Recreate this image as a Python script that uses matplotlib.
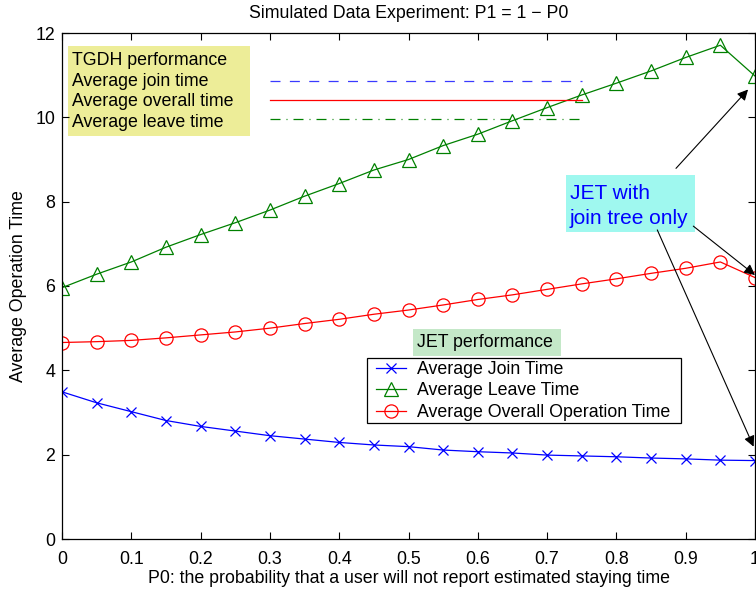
import matplotlib
matplotlib.use("Agg")
import matplotlib.pyplot as plt
from matplotlib.patches import Rectangle

plt.rcParams['font.family'] = ['Liberation Sans', 'DejaVu Sans']

# data
p0 = [0.0, 0.05, 0.1, 0.15, 0.2, 0.25, 0.3, 0.35, 0.4, 0.45, 0.5,
      0.55, 0.6, 0.65, 0.7, 0.75, 0.8, 0.85, 0.9, 0.95, 1.0]
join_time = [3.49, 3.23, 3.02, 2.81, 2.67, 2.56, 2.45, 2.37, 2.29, 2.23, 2.19,
             2.11, 2.07, 2.04, 1.99, 1.97, 1.95, 1.92, 1.90, 1.87, 1.86]
leave_time = [5.96, 6.28, 6.57, 6.92, 7.22, 7.50, 7.80, 8.13, 8.43, 8.75, 9.00,
              9.33, 9.60, 9.92, 10.23, 10.53, 10.81, 11.10, 11.42, 11.71, 10.98]
overall_time = [4.66, 4.68, 4.71, 4.77, 4.84, 4.91, 5.00, 5.11, 5.21, 5.33, 5.43,
                5.55, 5.68, 5.79, 5.92, 6.05, 6.17, 6.30, 6.42, 6.57, 6.20]

# TGDH reference levels (drawn as short horizontal key lines)
tgdh_x = [0.3, 0.75]
tgdh_join = 10.86
tgdh_overall = 10.41
tgdh_leave = 9.96

xticks = [0, 0.1, 0.2, 0.3, 0.4, 0.5, 0.6, 0.7, 0.8, 0.9, 1]
xtick_labels = ['0', '0.1', '0.2', '0.3', '0.4', '0.5', '0.6', '0.7', '0.8', '0.9', '1']
yticks = [0, 2, 4, 6, 8, 10, 12]

fs = 12.8

fig = plt.figure(figsize=(7.56, 5.92), dpi=100)
ax = fig.add_axes([62 / 756, 1 - 539 / 592, 693 / 756, 506 / 592])

l1, = ax.plot(p0, join_time, color='#0000ff', lw=0.9, marker='x', ms=7,
              mew=0.9, label='Average Join Time')
l2, = ax.plot(p0, leave_time, color='#008000', lw=0.9, marker='^', ms=9.5,
              mew=0.9, mfc='none', label='Average Leave Time')
l3, = ax.plot(p0, overall_time, color='#ff0000', lw=0.9, marker='o', ms=9.5,
              mew=0.9, mfc='none', label='Average Overall Operation Time')

# TGDH key lines
ax.plot(tgdh_x, [tgdh_join] * 2, color='#3a3aff', lw=0.9, dashes=(8, 7.5))
ax.plot(tgdh_x, [tgdh_overall] * 2, color='#ff0000', lw=0.9)
ax.plot(tgdh_x, [tgdh_leave] * 2, color='#008000', lw=0.9,
        dashes=(8, 4.8, 0.8, 4.8))

ax.set_xlim(0, 1)
ax.set_ylim(0, 12)
ax.set_xticks(xticks)
ax.set_xticklabels(xtick_labels)
ax.set_yticks(yticks)
ax.tick_params(direction='in', length=5, width=0.8, top=True, right=True,
               labelsize=fs)
ax.tick_params(axis='x', pad=9)
ax.tick_params(axis='y', pad=5)
for s in ax.spines.values():
    s.set_linewidth(0.9)

ax.set_title('Simulated Data Experiment: P1 = 1 \u2212 P0', fontsize=fs, pad=11)
ax.set_xlabel('P0: the probability that a user will not report estimated staying time',
              fontsize=fs)
ax.set_ylabel('Average Operation Time', fontsize=fs)
ax.xaxis.set_label_coords(0.5, -0.062)
ax.yaxis.set_label_coords(-0.051, 0.5)

# TGDH box
ax.add_patch(Rectangle((0.0087, 0.796), 0.262, 0.178, transform=ax.transAxes,
                       facecolor='#eded98', edgecolor='none', zorder=1))
tgdh_lines = ['TGDH performance', 'Average join time',
              'Average overall time', 'Average leave time']
for i, t in enumerate(tgdh_lines):
    ax.text(0.0145, 0.945 - i * 0.0405, t, transform=ax.transAxes,
            fontsize=fs, va='center', ha='left', zorder=3)

# JET performance label
ax.add_patch(Rectangle((0.506, 0.362), 0.2135, 0.053, transform=ax.transAxes,
                       facecolor='#c4e8c8', edgecolor='none', zorder=1))
ax.text(0.512, 0.389, 'JET performance', transform=ax.transAxes,
        fontsize=fs, va='center', ha='left', zorder=3)

# legend frame drawn separately so its padding can match
ax.add_patch(Rectangle((0.440, 0.229), 0.453, 0.129, transform=ax.transAxes,
                       facecolor='white', edgecolor='black', lw=0.9, zorder=4))
leg = ax.legend(handles=[l1, l2, l3], loc='center left',
                bbox_to_anchor=(0.4535, 0.2925), borderaxespad=0,
                fontsize=fs, frameon=False,
                handlelength=1.7, handletextpad=0.6, labelspacing=0.24,
                borderpad=0)
leg.set_zorder(5)

# JET with join tree only
ax.add_patch(Rectangle((0.727, 0.607), 0.186, 0.112, transform=ax.transAxes,
                       facecolor='#9ff8ef', edgecolor='none', zorder=1))
ax.text(0.733, 0.682, 'JET with', transform=ax.transAxes, fontsize=15,
        color='#0000ff', va='center', ha='left', zorder=3)
ax.text(0.733, 0.633, 'join tree only', transform=ax.transAxes, fontsize=15,
        color='#0000ff', va='center', ha='left', zorder=3)

arrow = dict(arrowstyle='-|>', color='black', lw=0.8, mutation_scale=16,
             shrinkA=0, shrinkB=0)
ax.annotate('', xy=(0.990, 10.66), xytext=(0.886, 8.79), arrowprops=arrow,
            annotation_clip=False)
ax.annotate('', xy=(1.0, 6.26), xytext=(0.911, 7.42), arrowprops=arrow,
            annotation_clip=False)
ax.annotate('', xy=(0.998, 2.19), xytext=(0.859, 7.33), arrowprops=arrow,
            annotation_clip=False)

fig.savefig('out.png', dpi=100)
